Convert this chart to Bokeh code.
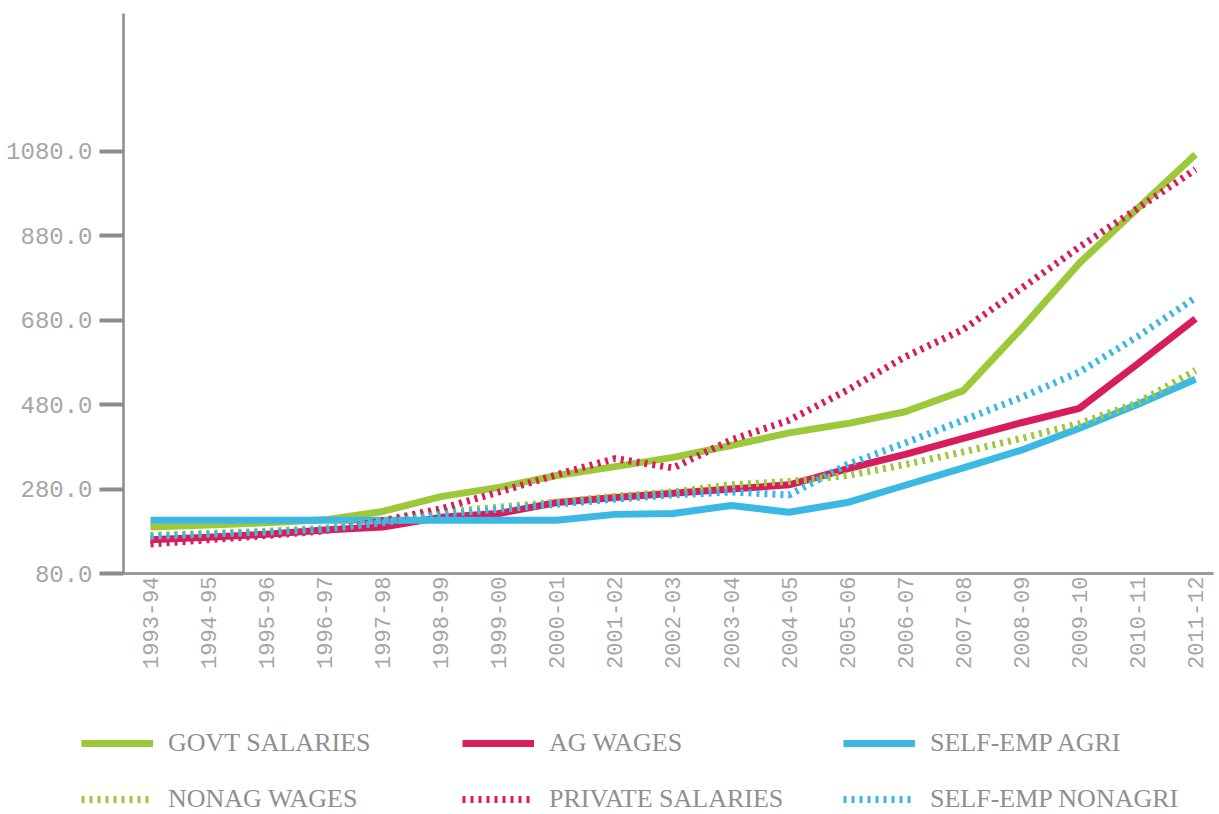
import math
from bokeh.plotting import figure
from bokeh.layouts import column
from bokeh.models import (FixedTicker, NumeralTickFormatter, Legend, LegendItem,
                          Range1d)
from bokeh.embed import file_html
from bokeh.resources import INLINE

years = ["1993-94", "1994-95", "1995-96", "1996-97", "1997-98", "1998-99",
         "1999-00", "2000-01", "2001-02", "2002-03", "2003-04", "2004-05",
         "2005-06", "2006-07", "2007-08", "2008-09", "2009-10", "2010-11",
         "2011-12"]

govt_salaries = [190, 195, 200, 207, 227, 262, 284, 312, 333, 355, 383, 413,
                 435, 463, 513, 660, 815, 944, 1072]
ag_wages = [160, 166, 173, 183, 190, 213, 222, 248, 260, 270, 280, 290,
            328, 362, 400, 437, 471, 576, 683]
self_emp_agri = [206, 206, 206, 206, 206, 206, 206, 206, 220, 222, 241, 225,
                 248, 289, 330, 372, 424, 480, 540]
nonag_wages = [170, 175, 180, 187, 205, 225, 237, 249, 263, 273, 290, 298,
               312, 338, 368, 400, 435, 484, 561]
private_salaries = [150, 160, 170, 181, 205, 233, 273, 314, 352, 330, 396, 443,
                    514, 593, 658, 755, 853, 944, 1037]
self_emp_nonagri = [168, 173, 178, 185, 200, 220, 232, 244, 256, 266, 273, 266,
                    338, 389, 443, 497, 557, 641, 733]

y_ticks = [80, 280, 480, 680, 880, 1080]

GREEN = "#9cc83a"
RED = "#d91c5c"
BLUE = "#3cb8e4"
GREY = "#8c8c8c"
TXT = "#a6a6a6"

x = list(range(len(years)))

series = [
    ("GOVT SALARIES", govt_salaries, GREEN, None),
    ("AG WAGES", ag_wages, RED, None),
    ("SELF-EMP AGRI", self_emp_agri, BLUE, None),
    ("NONAG WAGES", nonag_wages, GREEN, "3 5"),
    ("PRIVATE SALARIES", private_salaries, RED, "3 5"),
    ("SELF-EMP NONAGRI", self_emp_nonagri, BLUE, "3 5"),
]

W = 1215
H1 = 690
H2 = 814 - H1

# ---------------- main chart ----------------
p = figure(width=W, height=H1, output_backend="svg", toolbar_location=None,
           x_range=Range1d(-0.465, 18.31), y_range=Range1d(80, 1406),
           min_border_left=123, min_border_right=2, min_border_top=13,
           min_border_bottom=H1 - 573)
p.frame_align = False
p.outline_line_color = None
p.xgrid.visible = False
p.ygrid.visible = False
p.border_fill_color = "white"

for name, vals, col, dash in series:
    kw = dict(line_color=col, line_width=7)
    if dash:
        kw["line_dash"] = dash
    p.line(x, vals, **kw)

p.yaxis.ticker = FixedTicker(ticks=y_ticks)
p.yaxis.formatter = NumeralTickFormatter(format="0.0")
p.yaxis.major_tick_out = 24
p.yaxis.major_tick_in = 0
p.yaxis.major_tick_line_width = 4
p.yaxis.major_tick_line_color = GREY
p.yaxis.minor_tick_line_color = None
p.yaxis.minor_tick_out = 0
p.yaxis.axis_line_width = 2.5
p.yaxis.axis_line_color = GREY
p.yaxis.major_label_text_font = "Liberation Mono"
p.yaxis.major_label_text_font_size = "24px"
p.yaxis.major_label_text_color = TXT
p.yaxis.major_label_standoff = 7

p.xaxis.ticker = FixedTicker(ticks=x)
p.xaxis.major_label_overrides = {i: y for i, y in zip(x, years)}
p.xaxis.major_label_orientation = math.pi / 2
p.xaxis.major_tick_out = 0
p.xaxis.major_tick_in = 0
p.xaxis.minor_tick_line_color = None
p.xaxis.minor_tick_out = 0
p.xaxis.minor_tick_in = 0
p.xaxis.axis_line_color = "#9a9a9a"
p.xaxis.axis_line_width = 3
p.xaxis.major_label_text_font = "Liberation Mono"
p.xaxis.major_label_text_font_size = "22px"
p.xaxis.major_label_text_color = TXT
p.xaxis.major_label_standoff = 3

# ---------------- legend strip ----------------
q = figure(width=W, height=H2, output_backend="svg", toolbar_location=None,
           x_range=Range1d(0, 1), y_range=Range1d(-2000, -1000),
           x_axis_location=None, y_axis_location=None,
           min_border_left=0, min_border_right=0, min_border_top=0,
           min_border_bottom=0)
q.frame_align = False
q.outline_line_color = None
q.xgrid.visible = False
q.ygrid.visible = False
q.border_fill_color = "white"

items = []
for name, vals, col, dash in series:
    kw = dict(line_color=col, line_width=7)
    if dash:
        kw["line_dash"] = dash
    r = q.line(x, vals, **kw)   # out of view; used only for the legend swatches
    items.append(LegendItem(label=name, renderers=[r]))

legend = Legend(items=items, location=(81, 0), orientation="horizontal",
                ncols=3, glyph_width=72, glyph_height=30, label_height=30,
                label_width=268, label_standoff=15, spacing=26, padding=0,
                margin=0, border_line_alpha=0, background_fill_alpha=0,
                label_text_font="Liberation Serif", label_text_font_size="26px",
                label_text_color="#8f8f8f")
q.add_layout(legend)

layout = column(p, q, spacing=0)
open("out.html", "w").write(file_html(layout, INLINE))
